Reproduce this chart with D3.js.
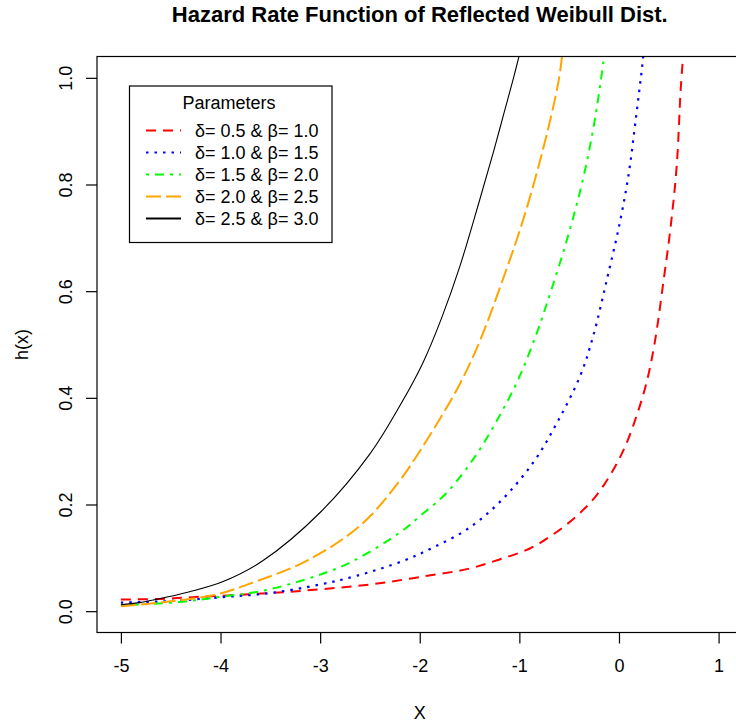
<!DOCTYPE html>
<html>
<head>
<meta charset="utf-8">
<script src="https://cdn.jsdelivr.net/npm/d3@7"></script>
<style>
  html, body { margin: 0; padding: 0; background: #fff; }
  svg { display: block; }
  text { font-family: "Liberation Sans", Arial, sans-serif; fill: #000; }
</style>
</head>
<body>
<svg id="chart" width="736" height="726"></svg>
<script>
// Hazard rate curves h(x), one array of x and one of h per parameter pair
const redX    = [-5, -4.6, -4.2, -3.5, -3.0, -2.5, -2.0, -1.5, -1.2, -0.9, -0.66, -0.44, -0.24, -0.07, 0.06, 0.18, 0.28, 0.36, 0.45, 0.52, 0.58, 0.62, 0.645];
const redH    = [0.022, 0.023, 0.027, 0.034, 0.041, 0.050, 0.064, 0.080, 0.097, 0.117, 0.144, 0.176, 0.214, 0.261, 0.308, 0.368, 0.431, 0.505, 0.623, 0.723, 0.836, 0.98, 1.043];

const blueX   = [-5, -4.5, -4, -3.5, -3, -2.64, -2.17, -1.87, -1.53, -1.2, -0.86, -0.62, -0.39, -0.26, -0.12, 0.01, 0.1, 0.165, 0.23, 0.245];
const blueH   = [0.016, 0.019, 0.026, 0.034, 0.050, 0.066, 0.094, 0.119, 0.153, 0.204, 0.279, 0.354, 0.441, 0.515, 0.623, 0.73, 0.823, 0.917, 1.017, 1.043];

const greenX  = [-5, -4.42, -4.0, -3.58, -3.04, -2.67, -2.18, -2.0, -1.73, -1.43, -1.2, -1.01, -0.84, -0.72, -0.52, -0.36, -0.24, -0.147];
const greenH  = [0.011, 0.017, 0.027, 0.038, 0.066, 0.094, 0.150, 0.178, 0.222, 0.294, 0.366, 0.435, 0.514, 0.579, 0.698, 0.811, 0.924, 1.043];

const orangeX = [-5, -4.48, -4.05, -3.64, -3.14, -2.6, -2.2, -2.0, -1.8, -1.6, -1.4, -1.16, -0.96, -0.76, -0.61, -0.57];
const orangeH = [0.009, 0.019, 0.031, 0.056, 0.094, 0.16, 0.245, 0.30, 0.36, 0.425, 0.505, 0.625, 0.735, 0.868, 0.99, 1.043];

const blackX  = [-5, -4.82, -4.65, -4.32, -3.98, -3.58, -3.0, -2.5, -2.2, -1.97, -1.78, -1.6, -1.4, -1.26, -1.16, -1.06, -1.0];
const blackH  = [0.012, 0.016, 0.022, 0.036, 0.055, 0.094, 0.185, 0.295, 0.385, 0.465, 0.55, 0.645, 0.77, 0.861, 0.93, 0.999, 1.043];

const legendLabels = ["δ= 0.5 & β= 1.0", "δ= 1.0 & β= 1.5", "δ= 1.5 & β= 2.0", "δ= 2.0 & β= 2.5", "δ= 2.5 & β= 3.0"];
const xTicks = [-5, -4, -3, -2, -1, 0, 1];
const yTicks = [0, 0.2, 0.4, 0.6, 0.8, 1.0];

const series = [
  { xs: redX,    hs: redH,    color: "#ff0000", dash: "10,7",      width: 2 },
  { xs: blueX,   hs: blueH,   color: "#0000ff", dash: "2.5,6",     width: 2.2 },
  { xs: greenX,  hs: greenH,  color: "#00ff00", dash: "3,6,9,6",   width: 2 },
  { xs: orangeX, hs: orangeH, color: "#ffa500", dash: "15,5",      width: 2 },
  { xs: blackX,  hs: blackH,  color: "#000000", dash: null,        width: 1.1 }
];

const svg = d3.select("#chart");
const plot = { left: 97, top: 56.5, right: 742.5, bottom: 632.5 };

// R-style 4% padding around xlim = c(-5, 1), ylim = c(0, 1)
const x = d3.scaleLinear().domain([-5.24, 1.24]).range([plot.left, plot.right]);
const y = d3.scaleLinear().domain([-0.04, 1.04]).range([plot.bottom, plot.top]);

svg.append("defs").append("clipPath").attr("id", "plotClip")
  .append("rect")
  .attr("x", plot.left).attr("y", plot.top)
  .attr("width", plot.right - plot.left).attr("height", plot.bottom - plot.top);

const line = d3.line()
  .x(d => x(d[0]))
  .y(d => y(d[1]))
  .curve(d3.curveCatmullRom.alpha(0.5));

const curves = svg.append("g").attr("clip-path", "url(#plotClip)");
series.forEach(s => {
  const pts = s.xs.map((v, i) => [v, s.hs[i]]);
  curves.append("path")
    .attr("d", line(pts))
    .attr("fill", "none")
    .attr("stroke", s.color)
    .attr("stroke-width", s.width)
    .attr("stroke-dasharray", s.dash)
    .attr("stroke-linejoin", "round");
});

// plot frame
svg.append("rect")
  .attr("x", plot.left).attr("y", plot.top)
  .attr("width", plot.right - plot.left).attr("height", plot.bottom - plot.top)
  .attr("fill", "none").attr("stroke", "#000").attr("stroke-width", 1.2);

// x axis
const xAxis = d3.axisBottom(x).tickValues(xTicks).tickSize(11).tickPadding(0).tickFormat(d3.format("d"));
const gx = svg.append("g").attr("transform", `translate(0,${plot.bottom})`).call(xAxis);
gx.select(".domain").remove();
gx.selectAll(".tick line").attr("stroke", "#000").attr("stroke-width", 1.2);
gx.selectAll(".tick text")
  .attr("y", 39).attr("dy", null)
  .style("font-size", "18px").style("font-family", "'Liberation Sans', Arial, sans-serif")
  .text(d => d < 0 ? "-" + Math.abs(d) : d);

// y axis
const yAxis = d3.axisLeft(y).tickValues(yTicks).tickSize(11).tickFormat(d3.format(".1f"));
const gy = svg.append("g").attr("transform", `translate(${plot.left},0)`).call(yAxis);
gy.select(".domain").remove();
gy.selectAll(".tick line").attr("stroke", "#000").attr("stroke-width", 1.2);
gy.selectAll(".tick text")
  .attr("x", null).attr("dy", null)
  .attr("transform", "translate(-25,0) rotate(-90)")
  .attr("text-anchor", "middle")
  .style("font-size", "18px").style("font-family", "'Liberation Sans', Arial, sans-serif");

// titles
svg.append("text")
  .attr("x", (plot.left + plot.right) / 2).attr("y", 22)
  .attr("text-anchor", "middle")
  .style("font-size", "22px").style("font-weight", "bold")
  .text("Hazard Rate Function of Reflected Weibull Dist.");

svg.append("text")
  .attr("x", (plot.left + plot.right) / 2).attr("y", 719)
  .attr("text-anchor", "middle")
  .style("font-size", "18px")
  .text("X");

svg.append("text")
  .attr("transform", `translate(28,${(plot.top + plot.bottom) / 2}) rotate(-90)`)
  .attr("text-anchor", "middle")
  .style("font-size", "18px")
  .text("h(x)");

// legend
const lg = svg.append("g");
lg.append("rect")
  .attr("x", 129.5).attr("y", 86).attr("width", 202.5).attr("height", 156.5)
  .attr("fill", "#fff").attr("stroke", "#000").attr("stroke-width", 1.2);
lg.append("text")
  .attr("x", 229).attr("y", 109)
  .attr("text-anchor", "middle")
  .style("font-size", "18px")
  .text("Parameters");
series.forEach((s, i) => {
  const yy = 130.5 + i * 22;
  lg.append("line")
    .attr("x1", 146).attr("x2", 181).attr("y1", yy).attr("y2", yy)
    .attr("stroke", s.color).attr("stroke-width", 2.2)
    .attr("stroke-dasharray", s.dash);
  lg.append("text")
    .attr("x", 195).attr("y", yy + 6.5)
    .style("font-size", "18px")
    .text(legendLabels[i]);
});
</script>
</body>
</html>
